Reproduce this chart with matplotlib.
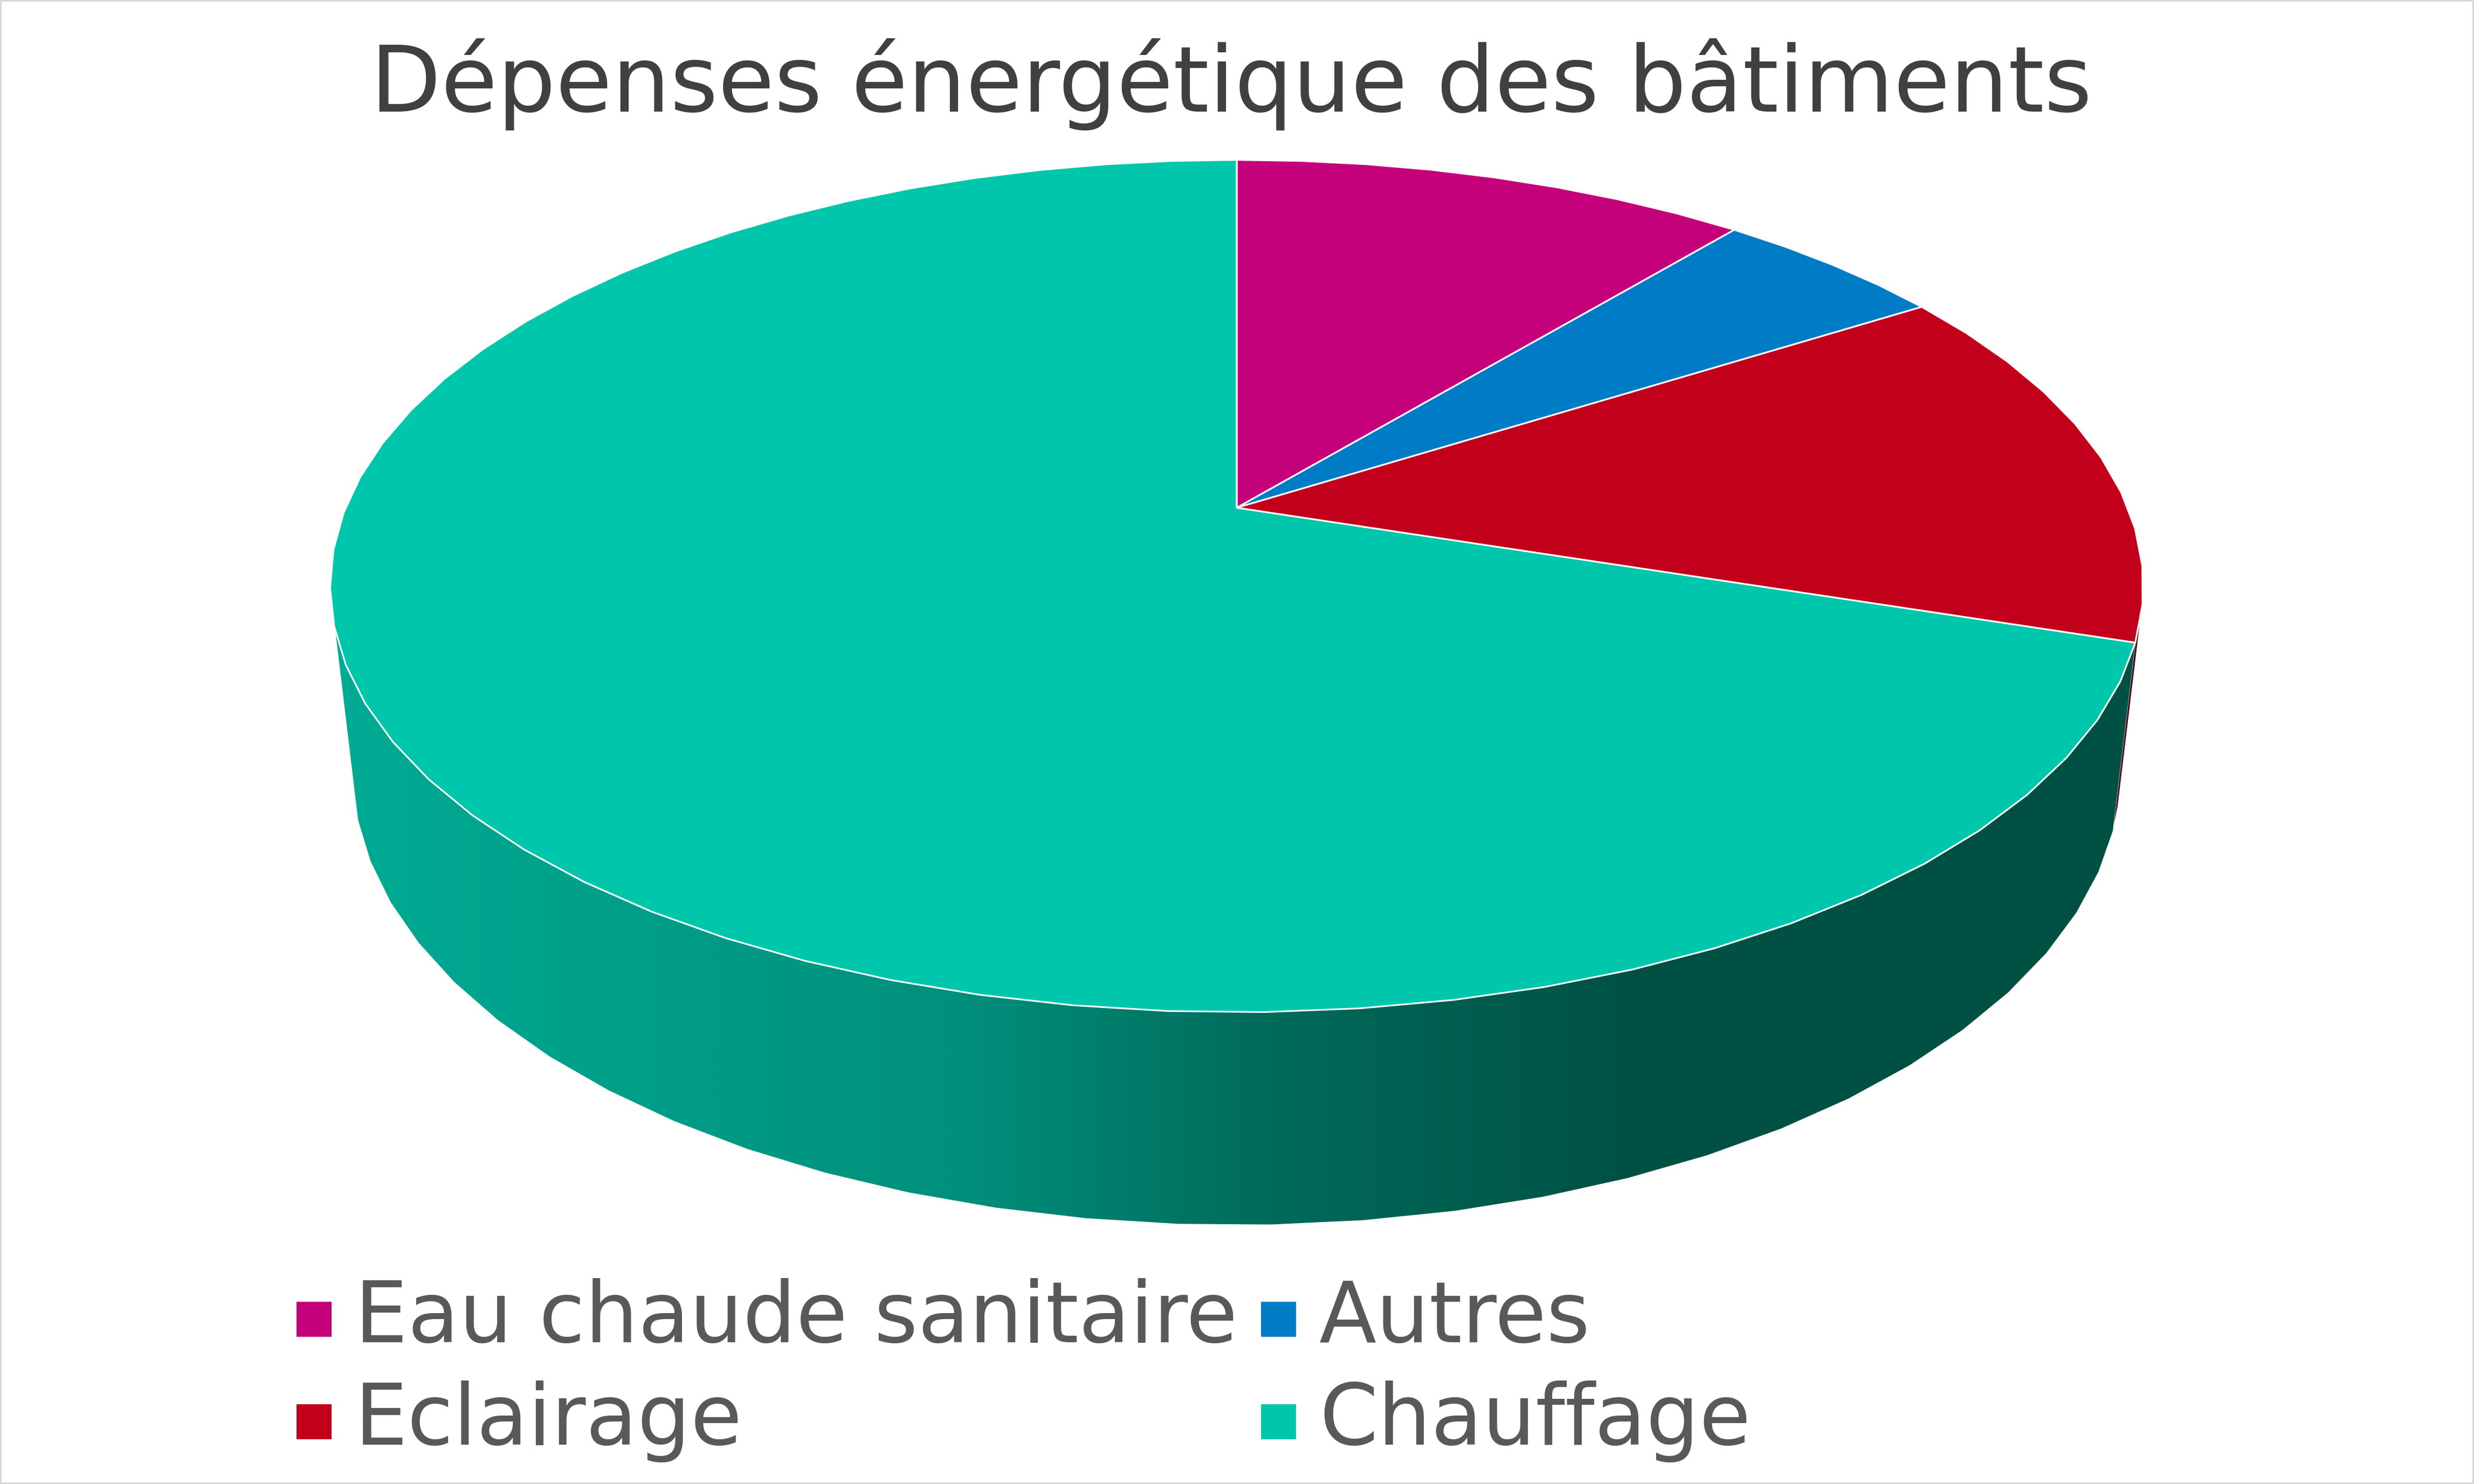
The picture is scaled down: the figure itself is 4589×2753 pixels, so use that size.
"""Faux 3D pie chart: energy spending of buildings, drawn in pixel coordinates."""
import matplotlib
matplotlib.use("Agg")
import matplotlib.pyplot as plt
import numpy as np
from matplotlib.colors import LinearSegmentedColormap
from matplotlib.patches import Polygon, Rectangle

WIDTH, HEIGHT = 4589, 2753

TITLE = "Dépenses énergétique des bâtiments"
labels = ["Eau chaude sanitaire", "Autres", "Eclairage", "Chauffage"]
values = [11, 5, 14, 70]
colors = ["#C5007B", "#007CC6", "#C3001B", "#00C7AC"]

# Perspective of the disc (projective map of the unit circle)
CX, CY = 2294, 942
A, B, K = 1653, 764, 0.1837
# Wall under the disc
WALL_H, WALL_K, WALL_SCALE = 332, 0.158, 0.975
FACET_DEG = 5.04


def rim(theta_deg):
    """Top rim points, theta clockwise from 12 o'clock."""
    t = np.radians(theta_deg)
    x, y = np.sin(t), np.cos(t)
    d = 1 + K * y
    return CX + A * x / d, CY - B * y / d


def low_rim(theta_deg):
    """Same rim, pushed down to the bottom of the wall."""
    px, py = rim(theta_deg)
    y = np.cos(np.radians(theta_deg))
    return CX + (px - CX) * WALL_SCALE, py + WALL_H / (1 + WALL_K * y)


def facets(start, end):
    n = max(1, int(round((end - start) / FACET_DEG)))
    return np.linspace(start, end, n + 1)


def wall_polygon(start, end):
    th = facets(start, end)
    tx, ty = rim(th)
    bx, by = low_rim(th)
    return np.column_stack([np.r_[tx, bx[::-1]], np.r_[ty, by[::-1]]])


fig = plt.figure(figsize=(WIDTH / 100, HEIGHT / 100), dpi=100, facecolor="white")
ax = fig.add_axes([0, 0, 1, 1])
ax.set_xlim(0, WIDTH)
ax.set_ylim(HEIGHT, 0)
ax.axis("off")

angles = np.r_[0, np.cumsum(values)] * 360 / sum(values)

# Sliver of the red slice wall, just visible behind the teal one
ax.add_patch(Polygon(wall_polygon(105, angles[3]), closed=True, fc="#4A0016", ec="white", lw=0.8, zorder=1))

# Gradient wall of the big slice
wall_cmap = LinearSegmentedColormap.from_list(
    "wall",
    [(0.0, "#00AB94"), (0.35, "#008F7B"), (0.51, "#006C5C"), (0.72, "#005144"), (1.0, "#005144")],
)
wall_patch = Polygon(wall_polygon(angles[3], 253.3), closed=True, fc="none", ec="none", zorder=2)
ax.add_patch(wall_patch)
grad = np.linspace(0, 1, 512).reshape(1, -1)
im = ax.imshow(grad, cmap=wall_cmap, extent=[620, 3970, 2300, 1100], aspect="auto", zorder=2, interpolation="bilinear")
im.set_clip_path(wall_patch)
ax.set_xlim(0, WIDTH)
ax.set_ylim(HEIGHT, 0)

# Top of the pie
for i, color in enumerate(colors):
    th = facets(angles[i], angles[i + 1])
    x, y = rim(th)
    pts = np.column_stack([np.r_[CX, x], np.r_[CY, y]])
    ax.add_patch(Polygon(pts, closed=True, fc=color, ec="white", lw=2.2, joinstyle="round", zorder=3))

ax.text(WIDTH / 2 - 11, 207, TITLE, fontsize=122.5, color="#404040", ha="center", va="baseline",
        family="DejaVu Sans", zorder=5)

# Legend
legend_x = [550, 2339, 550, 2339]
legend_y = [2490, 2490, 2680, 2680]
for label, color, lx, ly in zip(labels, colors, legend_x, legend_y):
    ax.add_patch(Rectangle((lx, ly - 75), 65, 65, fc=color, ec="none", zorder=5))
    ax.text(lx + 108, ly, label, fontsize=112, color="#595959", ha="left", va="baseline",
            family="DejaVu Sans", zorder=5)

# Thin chart border
ax.add_patch(Rectangle((0, 0), WIDTH, HEIGHT, fill=False, ec="#D9D9D9", lw=4.5, zorder=6, clip_on=True))

fig.savefig("out.png", dpi=100, facecolor="white")
